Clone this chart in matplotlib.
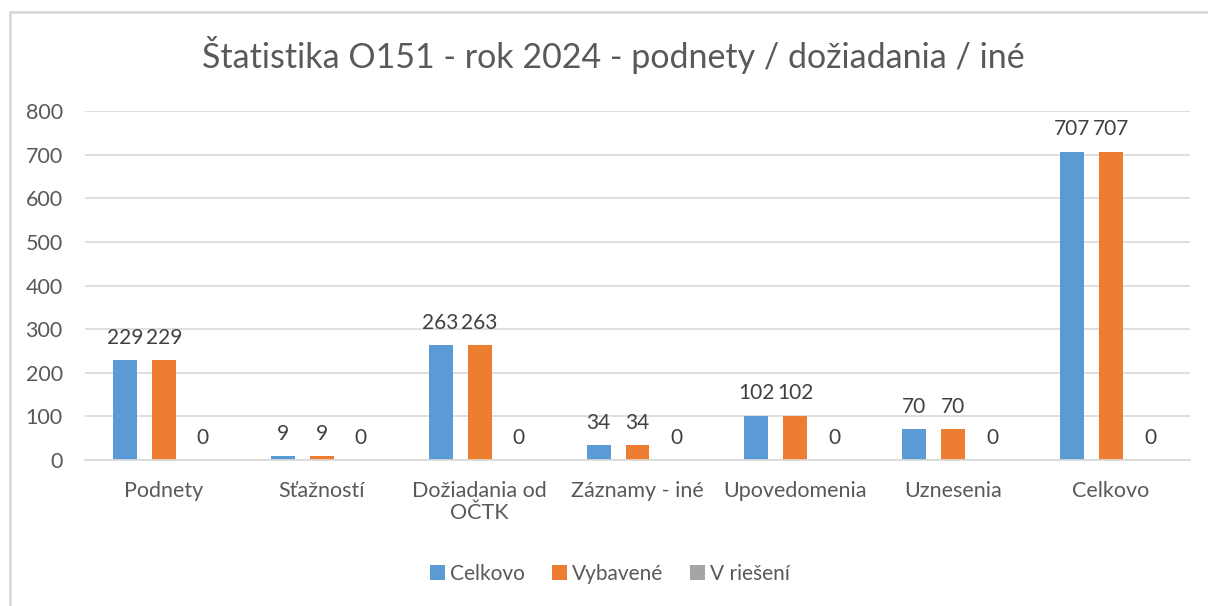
import matplotlib.pyplot as plt
import numpy as np
from matplotlib.patches import Rectangle

plt.rcParams['font.family'] = ['Lato', 'DejaVu Sans']

categories = ["Podnety", "Sťažností", "Dožiadania od\nOČTK", "Záznamy - iné",
              "Upovedomenia", "Uznesenia", "Celkovo"]
celkovo = [229, 9, 263, 34, 102, 70, 707]
vybavene = [229, 9, 263, 34, 102, 70, 707]
v_rieseni = [0, 0, 0, 0, 0, 0, 0]
series_names = ["Celkovo", "Vybavené", "V riešení"]
colors = ["#5B9BD5", "#ED7D31", "#A5A5A5"]
text_col = "#595959"

fig = plt.figure(figsize=(12.08, 6.06), dpi=100)
# chart border (light gray, runs off right/bottom like the screenshot)
fig.patches.append(Rectangle((10 / 1208, -0.1), 1.2, 1 - 12 / 606 + 0.1,
                             transform=fig.transFigure, fill=False,
                             edgecolor="#D9D9D9", linewidth=2))

ax = fig.add_axes([85 / 1208, 1 - 460 / 606, 1105 / 1208, 349 / 606])
x = np.arange(len(categories))
width = 0.152
step = 0.247
for i, (vals, name, c) in enumerate(zip([celkovo, vybavene, v_rieseni], series_names, colors)):
    bars = ax.bar(x + (i - 1) * step, vals, width, color=c, label=name)
    for b, v in zip(bars, vals):
        ax.annotate(str(v), (b.get_x() + b.get_width() / 2, v), xytext=(0, 9),
                    textcoords="offset points", ha="center", va="bottom",
                    fontsize=15, color="#404040")

ax.set_xlim(-0.5, len(categories) - 0.5)
ax.set_ylim(0, 800)
ax.set_yticks(range(0, 801, 100))
ax.set_xticks(x)
ax.set_xticklabels(categories, fontsize=15.5, color=text_col, linespacing=1.15, va="top")
ax.tick_params(axis="y", labelsize=15.5, labelcolor=text_col, length=0, pad=16)
ax.tick_params(axis="x", length=0, pad=15)
ax.yaxis.grid(True, color="#D9D9D9", linewidth=1.2)
ax.set_axisbelow(True)
for s in ["top", "right", "left"]:
    ax.spines[s].set_visible(False)
ax.spines["bottom"].set_color("#D9D9D9")
ax.spines["bottom"].set_linewidth(1.2)

fig.text(0.508, 1 - 55 / 606, "Štatistika O151 - rok 2024 - podnety / dožiadania / iné",
         ha="center", va="center", fontsize=24.5, color=text_col)

fig.legend(loc="center", bbox_to_anchor=(0.505, 1 - 574 / 606), ncol=3, frameon=False,
           fontsize=15, labelcolor=text_col, handlelength=0.7, handleheight=0.7,
           handletextpad=0.25, columnspacing=1.3)

fig.savefig("out.png", dpi=100)
